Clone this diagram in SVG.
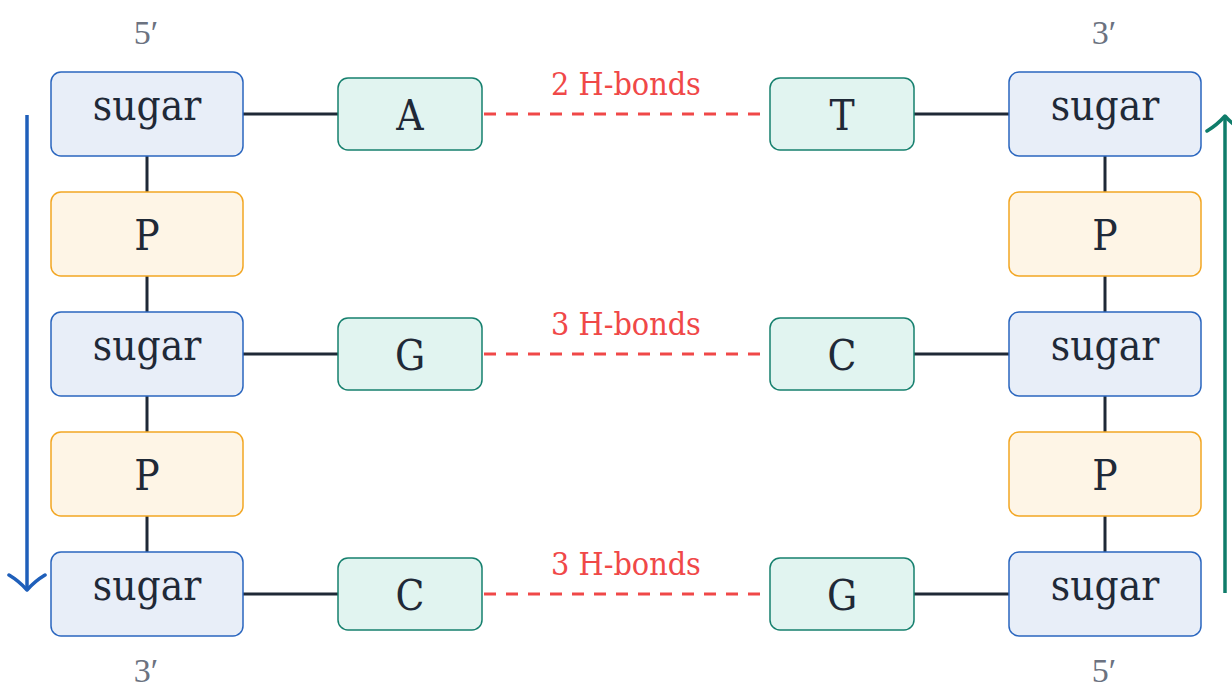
<svg xmlns="http://www.w3.org/2000/svg" width="1232" height="691" viewBox="0 0 1232 691">
  <style>
    .sugar { fill: #e8eef8; stroke: #2a66bf; stroke-width: 1.5; }
    .phos { fill: #fef5e6; stroke: #f2a623; stroke-width: 1.5; }
    .base { fill: #e1f4f0; stroke: #16806e; stroke-width: 1.5; }
    .lbl { font-family: "DejaVu Serif Condensed", "DejaVu Serif", "Liberation Serif", serif; font-stretch: condensed; font-size: 42px; fill: #1f2937; text-anchor: middle; }
    .hb { font-family: "DejaVu Serif Condensed", "DejaVu Serif", "Liberation Serif", serif; font-stretch: condensed; font-size: 32px; fill: #f04848; text-anchor: middle; }
    .end { font-family: "Liberation Serif", serif; font-size: 34px; fill: #6b7280; text-anchor: middle; }
    .bond { stroke: #1f2937; stroke-width: 3; fill: none; }
    .hbond { stroke: #f04848; stroke-width: 3; stroke-dasharray: 12 10; fill: none; }
  </style>
  <defs>
    <marker id="arrowBlue" viewBox="0 0 20 40" refX="17" refY="20" markerWidth="20" markerHeight="40" markerUnits="userSpaceOnUse" orient="auto">
      <path d="M2,2 Q8,12 17,20 Q8,28 2,38" fill="none" stroke="#1f5fba" stroke-width="3.5" stroke-linecap="round" stroke-linejoin="round"/>
    </marker>
    <marker id="arrowGreen" viewBox="0 0 20 40" refX="17" refY="20" markerWidth="20" markerHeight="40" markerUnits="userSpaceOnUse" orient="auto">
      <path d="M2,2 Q8,12 17,20 Q8,28 2,38" fill="none" stroke="#0f7c6a" stroke-width="3.5" stroke-linecap="round" stroke-linejoin="round"/>
    </marker>
  </defs>

  <!-- backbone and base-pair connectors -->
  <g id="connectors">
    <line class="bond" x1="147" y1="156" x2="147" y2="192"/>
    <line class="bond" x1="147" y1="276" x2="147" y2="312"/>
    <line class="bond" x1="147" y1="396" x2="147" y2="432"/>
    <line class="bond" x1="147" y1="516" x2="147" y2="552"/>
    <line class="bond" x1="1105" y1="156" x2="1105" y2="192"/>
    <line class="bond" x1="1105" y1="276" x2="1105" y2="312"/>
    <line class="bond" x1="1105" y1="396" x2="1105" y2="432"/>
    <line class="bond" x1="1105" y1="516" x2="1105" y2="552"/>

    <line class="bond" x1="243" y1="114" x2="338" y2="114"/>
    <line class="bond" x1="243" y1="354" x2="338" y2="354"/>
    <line class="bond" x1="243" y1="594" x2="338" y2="594"/>
    <line class="bond" x1="914" y1="114" x2="1009" y2="114"/>
    <line class="bond" x1="914" y1="354" x2="1009" y2="354"/>
    <line class="bond" x1="914" y1="594" x2="1009" y2="594"/>

    <line class="hbond" x1="484" y1="114" x2="770" y2="114"/>
    <line class="hbond" x1="484" y1="354" x2="770" y2="354"/>
    <line class="hbond" x1="484" y1="594" x2="770" y2="594"/>
    <text class="hb" x="626" y="95">2 H-bonds</text>
    <text class="hb" x="626" y="335">3 H-bonds</text>
    <text class="hb" x="626" y="575">3 H-bonds</text>

    <!-- strand direction arrows -->
    <line x1="27" y1="115" x2="27" y2="590" stroke="#1f5fba" stroke-width="3.5" marker-end="url(#arrowBlue)"/>
    <line x1="1225" y1="593" x2="1225" y2="116" stroke="#0f7c6a" stroke-width="3.5" marker-end="url(#arrowGreen)"/>
  </g>

  <!-- strand end labels -->
  <text class="end" x="146" y="44">5′</text>
  <text class="end" x="1104" y="44">3′</text>
  <text class="end" x="146" y="682">3′</text>
  <text class="end" x="1104" y="682">5′</text>

  <!-- left strand -->
  <g id="sugarL1"><rect class="sugar" x="51" y="72" width="192" height="84" rx="10"/><text class="lbl" x="147" y="120">sugar</text></g>
  <g id="phosL1"><rect class="phos" x="51" y="192" width="192" height="84" rx="10"/><text class="lbl" x="147" y="250">P</text></g>
  <g id="sugarL2"><rect class="sugar" x="51" y="312" width="192" height="84" rx="10"/><text class="lbl" x="147" y="360">sugar</text></g>
  <g id="phosL2"><rect class="phos" x="51" y="432" width="192" height="84" rx="10"/><text class="lbl" x="147" y="490">P</text></g>
  <g id="sugarL3"><rect class="sugar" x="51" y="552" width="192" height="84" rx="10"/><text class="lbl" x="147" y="600">sugar</text></g>

  <!-- left bases -->
  <g id="baseA"><rect class="base" x="338" y="78" width="144" height="72" rx="10"/><text class="lbl" x="410" y="130">A</text></g>
  <g id="baseG1"><rect class="base" x="338" y="318" width="144" height="72" rx="10"/><text class="lbl" x="410" y="370">G</text></g>
  <g id="baseC1"><rect class="base" x="338" y="558" width="144" height="72" rx="10"/><text class="lbl" x="410" y="610">C</text></g>

  <!-- right bases -->
  <g id="baseT"><rect class="base" x="770" y="78" width="144" height="72" rx="10"/><text class="lbl" x="842" y="130">T</text></g>
  <g id="baseC2"><rect class="base" x="770" y="318" width="144" height="72" rx="10"/><text class="lbl" x="842" y="370">C</text></g>
  <g id="baseG2"><rect class="base" x="770" y="558" width="144" height="72" rx="10"/><text class="lbl" x="842" y="610">G</text></g>

  <!-- right strand -->
  <g id="sugarR1"><rect class="sugar" x="1009" y="72" width="192" height="84" rx="10"/><text class="lbl" x="1105" y="120">sugar</text></g>
  <g id="phosR1"><rect class="phos" x="1009" y="192" width="192" height="84" rx="10"/><text class="lbl" x="1105" y="250">P</text></g>
  <g id="sugarR2"><rect class="sugar" x="1009" y="312" width="192" height="84" rx="10"/><text class="lbl" x="1105" y="360">sugar</text></g>
  <g id="phosR2"><rect class="phos" x="1009" y="432" width="192" height="84" rx="10"/><text class="lbl" x="1105" y="490">P</text></g>
  <g id="sugarR3"><rect class="sugar" x="1009" y="552" width="192" height="84" rx="10"/><text class="lbl" x="1105" y="600">sugar</text></g>
</svg>
